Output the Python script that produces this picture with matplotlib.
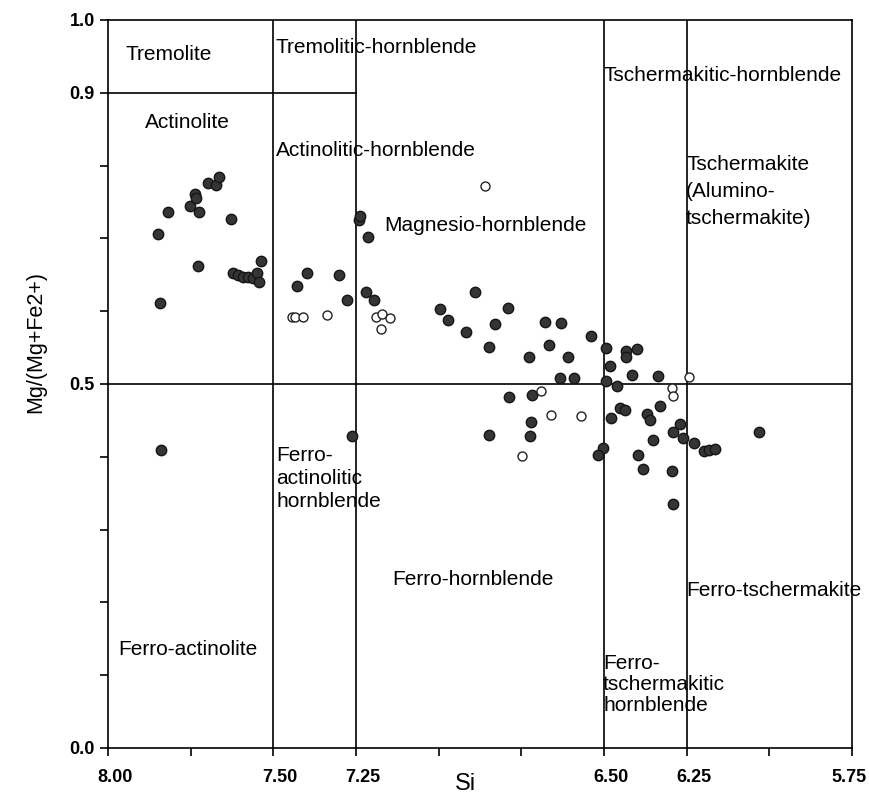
import numpy as np
import matplotlib
matplotlib.use("Agg")
import matplotlib.pyplot as plt
import matplotlib.transforms as mtransforms

plt.rcParams['font.family'] = ['Liberation Sans', 'DejaVu Sans']

## Data

filled_si = [7.848, 7.818, 7.752, 7.736, 7.733, 7.724, 7.697, 7.673, 7.664, 7.627,
             7.727, 7.842, 7.839, 7.621, 7.606, 7.591, 7.576, 7.561, 7.548, 7.542,
             7.536, 7.427, 7.397, 7.300, 7.276, 7.242, 7.239, 7.215, 7.221, 7.197,
             7.261, 6.891, 6.997, 6.973, 6.918, 6.791, 6.830, 6.848, 6.679, 6.630,
             6.667, 6.727, 6.609, 6.539, 6.633, 6.591, 6.494, 6.482, 6.433, 6.433,
             6.400, 6.415, 6.494, 6.461, 6.788, 6.718, 6.721, 6.724, 6.848, 6.479,
             6.452, 6.436, 6.370, 6.503, 6.518, 6.397, 6.382, 6.336, 6.330, 6.361,
             6.270, 6.291, 6.261, 6.352, 6.227, 6.197, 6.182, 6.164, 6.030, 6.294,
             6.291]
filled_mg = [0.706, 0.736, 0.745, 0.761, 0.755, 0.736, 0.776, 0.773, 0.784, 0.727,
             0.662, 0.611, 0.409, 0.652, 0.650, 0.647, 0.647, 0.646, 0.652, 0.640,
             0.669, 0.635, 0.652, 0.650, 0.615, 0.725, 0.731, 0.702, 0.626, 0.615,
             0.429, 0.626, 0.603, 0.588, 0.571, 0.604, 0.582, 0.551, 0.585, 0.584,
             0.554, 0.537, 0.537, 0.566, 0.508, 0.508, 0.549, 0.525, 0.545, 0.537,
             0.548, 0.512, 0.504, 0.497, 0.482, 0.485, 0.448, 0.429, 0.430, 0.453,
             0.467, 0.464, 0.459, 0.412, 0.402, 0.402, 0.383, 0.511, 0.470, 0.451,
             0.445, 0.434, 0.426, 0.423, 0.419, 0.408, 0.409, 0.411, 0.434, 0.380,
             0.335]

open_si = [7.445, 7.436, 7.409, 7.339, 7.191, 7.170, 7.148, 7.173,
           6.861, 6.691, 6.661, 6.570, 6.748, 6.242, 6.294, 6.291]
open_mg = [0.592, 0.592, 0.592, 0.595, 0.592, 0.596, 0.591, 0.576,
           0.772, 0.490, 0.457, 0.456, 0.401, 0.510, 0.495, 0.484]

# field boundaries
si_bounds = [7.50, 7.25, 6.50, 6.25]
mg_bound = 0.5
tremolite_bound = 0.9

x_tick_labels = ["8.00", "", "7.50", "7.25", "", "", "6.50", "6.25", "", "5.75"]
y_tick_labels = ["0.0", "", "", "", "", "0.5", "", "", "", "0.9", "1.0"]

# (text, Si, Mg#, linespacing)
fields = [
    ("Tremolite", 7.948, 0.952, 1.0),
    ("Tremolitic-hornblende", 7.494, 0.962, 1.0),
    ("Actinolite", 7.888, 0.859, 1.0),
    ("Actinolitic-hornblende", 7.491, 0.821, 1.0),
    ("Magnesio-hornblende", 7.164, 0.717, 1.0),
    ("Tschermakitic-hornblende", 6.503, 0.923, 1.0),
    ("Tschermakite\n(Alumino-\ntschermakite)", 6.252, 0.764, 1.55),
    ("Ferro-\nactinolitic\nhornblende", 7.491, 0.370, 1.25),
    ("Ferro-hornblende", 7.139, 0.232, 1.0),
    ("Ferro-tschermakite", 6.252, 0.216, 1.0),
    ("Ferro-actinolite", 7.970, 0.135, 1.0),
    ("Ferro-\ntschermakitic\nhornblende", 6.503, 0.087, 1.15),
]

## Plot

fig = plt.figure(figsize=(8.69, 7.97), dpi=100)
ax = fig.add_axes([0.1243, 0.0615, 0.8562, 0.9135])

ax.set_xlim(8.0, 5.75)
ax.set_ylim(0.0, 1.0)

lw = 1.2
for s in si_bounds:
    ax.axvline(s, color="black", lw=lw)
ax.axhline(mg_bound, color="black", lw=lw)
ax.plot([8.0, 7.25], [tremolite_bound, tremolite_bound], color="black", lw=lw)

ax.scatter(filled_si, filled_mg, s=56, facecolor="#353535", edgecolor="#151515",
           linewidth=1.0, zorder=3)
ax.scatter(open_si, open_mg, s=42, facecolor="white", edgecolor="#222222",
           linewidth=1.0, zorder=3)

for text, x, y, ls in fields:
    ax.text(x, y, text, ha="left", va="center", fontsize=15, linespacing=ls)

for sp in ax.spines.values():
    sp.set_linewidth(lw)

ax.set_xticks(np.arange(8.0, 5.74, -0.25))
ax.set_xticklabels(x_tick_labels)
ax.set_yticks(np.linspace(0.0, 1.0, 11))
ax.set_yticklabels(y_tick_labels)
ax.tick_params(direction="out", length=6, width=1.2, labelsize=13)
ax.tick_params(axis="x", pad=9)
for lab in ax.get_xticklabels() + ax.get_yticklabels():
    lab.set_fontweight("bold")
xlabs = ax.get_xticklabels()
for i, lab in enumerate(xlabs):
    dx = -3 if i == len(xlabs) - 1 else 7
    offset = mtransforms.ScaledTranslation(dx / 100, 0, fig.dpi_scale_trans)
    lab.set_transform(lab.get_transform() + offset)

ax.set_xlabel("Si", fontsize=17)
ax.xaxis.set_label_coords(0.481, -0.035)
ax.set_ylabel("Mg/(Mg+Fe2+)", fontsize=15.5)
ax.yaxis.set_label_coords(-0.083, 0.557)

fig.savefig("out.png", dpi=100)
